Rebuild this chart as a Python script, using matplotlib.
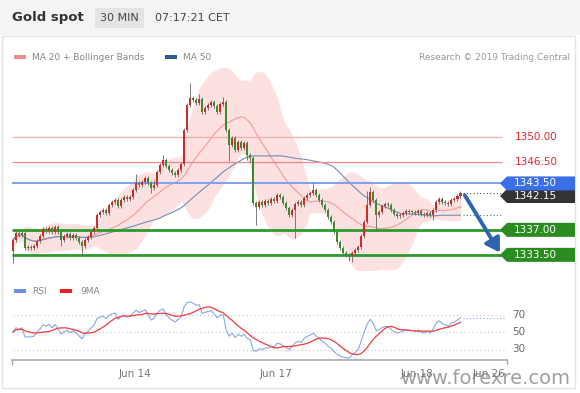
import numpy as np
import pandas as pd
import matplotlib
matplotlib.use("Agg")
import matplotlib.pyplot as plt
from matplotlib.patches import Rectangle, Polygon

# 30 min closes
closes = [
    1335.6, 1336.6, 1336.3, 1336.6, 1334.5, 1334.6, 1334.5, 1334.7, 1335.4, 1336.1,
    1337.1, 1336.8, 1337.3, 1336.7, 1337.4, 1336.7, 1335.6, 1336.1, 1336.4, 1335.9,
    1336.3, 1335.9, 1335.3, 1334.7, 1335.6, 1336.0, 1336.7, 1337.3, 1339.1, 1339.5,
    1339.8, 1339.4, 1340.5, 1340.9, 1341.2, 1340.3, 1341.2, 1341.6, 1341.3, 1341.6,
    1342.6, 1343.6, 1343.3, 1343.7, 1344.3, 1343.6, 1342.9, 1343.3, 1345.1, 1346.1,
    1346.8, 1345.9, 1345.4, 1345.0, 1344.7, 1345.4, 1346.2, 1351.0, 1354.5, 1355.5,
    1355.2, 1354.8, 1355.3, 1353.5, 1354.1, 1354.5, 1354.9, 1354.3, 1353.5, 1354.6,
    1354.9, 1351.0, 1348.9, 1349.9, 1348.2, 1349.3, 1348.5, 1349.2, 1347.5, 1347.1,
    1340.8, 1340.2, 1340.9, 1340.5, 1341.0, 1340.8, 1341.3, 1341.0, 1341.9, 1341.6,
    1340.8, 1340.1, 1339.1, 1339.8, 1340.6, 1340.9, 1340.5, 1341.5, 1341.9, 1342.2,
    1342.6, 1341.9, 1341.2, 1340.5, 1339.8, 1338.8, 1338.1, 1336.7, 1335.3, 1334.5,
    1333.8, 1333.5, 1333.3, 1333.8, 1334.2, 1334.6, 1336.1, 1338.1, 1340.5, 1342.3,
    1341.2, 1339.1, 1339.5, 1340.3, 1340.6, 1340.5, 1339.8, 1339.2, 1338.9, 1339.1,
    1339.4, 1339.6, 1339.5, 1339.5, 1339.4, 1339.6, 1339.2, 1339.1, 1339.4, 1339.1,
    1339.8, 1340.9, 1341.3, 1340.9, 1340.8, 1340.6, 1341.2, 1341.3, 1341.7, 1342.15,
]
first_open = 1334.0
# long wicks that stand out on the chart
wick_highs = {41: 1344.8, 47: 1344.0, 50: 1347.5, 59: 1357.5, 62: 1356.0, 100: 1343.7,
              119: 1343.0, 118: 1342.4, 70: 1355.6}
wick_lows = {0: 1332.4, 16: 1334.8, 23: 1333.5, 46: 1342.2, 72: 1346.6, 78: 1346.8,
             79: 1346.5, 81: 1337.7, 94: 1335.9, 113: 1332.5, 121: 1337.0, 140: 1338.4,
             112: 1332.7}

res_levels = [1350.00, 1346.50]
pivot_level = 1343.50
sup_levels = [1337.00, 1333.50]
last_price = 1342.15

date_pos = [41, 88, 135, 159]
date_labels = ["Jun 14", "Jun 17", "Jun 18", "Jun 26"]
rsi_levels = [70, 50, 30]

W, H = 580, 393
def fx(px):
    return px / W
def fy(py):
    return 1 - py / H
def price_y(p):
    return 137 + (1350 - p) * 7.143

c = pd.Series(closes)
n = len(c)
opens = np.r_[first_open, c.values[:-1]]
ma20 = c.rolling(20, min_periods=1).mean()
sd20 = c.rolling(20, min_periods=2).std(ddof=0).bfill()
ma50 = c.rolling(50, min_periods=1).mean()

d = c.diff().fillna(0)
seed = d.abs().mean() / 2
gain = d.clip(lower=0)
loss = (-d).clip(lower=0)
ag, al = [], []
g, l = seed, seed
for gi, li in zip(gain, loss):
    g = g + (gi - g) / 14
    l = l + (li - l) / 14
    ag.append(g)
    al.append(l)
rsi = 100 - 100 / (1 + np.array(ag) / np.array(al))
rsi_ma = pd.Series(rsi).rolling(9, min_periods=1).mean()

fig = plt.figure(figsize=(5.8, 3.93), dpi=100)
fig.patch.set_facecolor("white")

# header band and frame
fig.patches.append(Rectangle((0, fy(35)), 1, 1 - fy(35), transform=fig.transFigure,
                             facecolor="#f5f3f3", edgecolor="none", zorder=0))
fig.patches.append(Rectangle((fx(2), fy(388)), fx(575) - fx(2), fy(36) - fy(388),
                             transform=fig.transFigure, facecolor="none",
                             edgecolor="#e4e4e4", lw=1, zorder=0))
fig.text(fx(12), fy(18), "Gold spot", fontsize=9.5, fontweight="bold", color="#333", va="center")
fig.text(fx(100), fy(18), "30 MIN", fontsize=8, color="#444", va="center",
         bbox=dict(boxstyle="square,pad=0.45", facecolor="#e4e4e4", edgecolor="none"))
fig.text(fx(155), fy(18), "07:17:21 CET", fontsize=8, color="#444", va="center")

fig.patches.append(Rectangle((fx(14), fy(59)), fx(12), fy(55) - fy(59), transform=fig.transFigure,
                             facecolor="#f48a8a", edgecolor="none"))
fig.text(fx(32), fy(57), "MA 20 + Bollinger Bands", fontsize=6.5, color="#888", va="center")
fig.patches.append(Rectangle((fx(165), fy(59)), fx(12), fy(55) - fy(59), transform=fig.transFigure,
                             facecolor="#2f5a92", edgecolor="none"))
fig.text(fx(183), fy(57), "MA 50", fontsize=6.5, color="#888", va="center")
fig.text(fx(570), fy(57), "Research \u00a9 2019 Trading Central", fontsize=6.5, color="#999",
         va="center", ha="right")

# main price panel
ax = fig.add_axes([fx(11.5), fy(270), fx(507) - fx(11.5), fy(68) - fy(270)])
ax.set_xlim(-0.5, 164.5)
ax.set_ylim(1350 - 133 / 7.143, 1350 + 69 / 7.143)
ax.axis("off")
x = np.arange(n)
ax.fill_between(x, ma20 - 2 * sd20, ma20 + 2 * sd20, color="#fde0e0", lw=0, zorder=1)
ax.plot(x, ma20, color="#f39a9a", lw=0.8, zorder=2)
ax.plot(x, ma50, color="#6f8fb8", lw=0.8, zorder=2)

xe = 162.7
ax.hlines(res_levels[0], -0.3, xe, color="#f7b0b0", lw=0.9, zorder=3)
ax.hlines(res_levels[1], -0.3, xe, color="#ee8a8a", lw=0.9, zorder=3)
ax.hlines(pivot_level, -0.3, xe, color="#7fa0f5", lw=1.4, zorder=3)
for lv in sup_levels:
    ax.hlines(lv, -0.3, xe, color="#2c9a2c", lw=2.0, zorder=3)
ax.hlines(last_price, n, xe, color="#555", lw=0.8, linestyles=(0, (1, 2)), zorder=3)
ax.hlines(ma50.iloc[-1], n, xe, color="#4a6fa8", lw=0.8, linestyles=(0, (1, 2)), zorder=3)

for i in range(n):
    o, cl = opens[i], closes[i]
    hi = wick_highs.get(i, max(o, cl) + 0.3)
    lo = wick_lows.get(i, min(o, cl) - 0.3)
    col = "#cf2b2b" if cl >= o else "#3b8a2c"
    ax.vlines(i, lo, hi, color="#666", lw=0.6, zorder=4)
    ax.add_patch(Rectangle((i - 0.35, min(o, cl)), 0.7, max(abs(cl - o), 0.08),
                           facecolor=col, edgecolor="none", zorder=5))

ax.annotate("", xy=(162.6, sup_levels[1]), xytext=(n, last_price),
            arrowprops=dict(arrowstyle="-|>,head_length=0.8,head_width=0.5",
                            color="#2e64b0", lw=2.8), zorder=6)

for p in res_levels:
    fig.text(fx(515), fy(price_y(p)), f"{p:.2f}", fontsize=7.5, color="#e8262b", va="center")

def tag(py, label, color):
    pts = [(fx(500), fy(py)), (fx(507), fy(py - 7)), (fx(575), fy(py - 7)),
           (fx(575), fy(py + 7)), (fx(507), fy(py + 7))]
    fig.patches.append(Polygon(pts, closed=True, transform=fig.transFigure,
                               facecolor=color, edgecolor="none"))
    fig.text(fx(514), fy(py), label, fontsize=7.5, color="white", va="center")

tag(196, f"{last_price:.2f}", "#333333")
tag(price_y(pivot_level), f"{pivot_level:.2f}", "#3a6fe8")
for lv in sup_levels:
    tag(price_y(lv), f"{lv:.2f}", "#2a8c1e")

# rsi panel
fig.patches.append(Rectangle((fx(14), fy(293)), fx(12), fy(289) - fy(293), transform=fig.transFigure,
                             facecolor="#6d8fe6", edgecolor="none"))
fig.text(fx(32), fy(291), "RSI", fontsize=6.5, color="#888", va="center")
fig.patches.append(Rectangle((fx(60), fy(293)), fx(12), fy(289) - fy(293), transform=fig.transFigure,
                             facecolor="#f02020", edgecolor="none"))
fig.text(fx(80), fy(291), "9MA", fontsize=6.5, color="#888", va="center")

ax2 = fig.add_axes([fx(11.5), fy(360), fx(507) - fx(11.5), fy(300) - fy(360)])
ax2.set_xlim(-0.5, 164.5)
ax2.set_ylim(50 - 28 / 0.875, 50 + 32 / 0.875)
ax2.axis("off")
for lv in rsi_levels:
    ax2.hlines(lv, 0, 163.5, color="#c8c8c8", lw=0.8, linestyles=(0, (1, 2.5)))
    fig.text(fx(512), fy(332 - (lv - 50) * 0.875), str(lv), fontsize=7.5, color="#666", va="center")
ax2.plot(x, rsi, color="#8aa6ea", lw=0.8)
ax2.plot(x, rsi_ma, color="#f03c3c", lw=0.9)
ax2.hlines(rsi[-1], n, 163.5, color="#8aa6ea", lw=0.8, linestyles=(0, (1, 2)))

# date axis
fig.lines.append(plt.Line2D([fx(12), fx(507)], [fy(360), fy(360)], transform=fig.transFigure,
                            color="#aaa", lw=1.2))
for px in (12, 507):
    fig.lines.append(plt.Line2D([fx(px), fx(px)], [fy(360), fy(364)], transform=fig.transFigure,
                                color="#aaa", lw=1.0))
for pos, lab in zip(date_pos, date_labels):
    fig.text(fx(12 + 3 * pos), fy(374), lab, fontsize=7.5, color="#777", ha="center", va="center")

fig.text(fx(485), fy(378), "www.forexre.com", fontsize=14, color="#777", alpha=0.7,
         ha="center", va="center")

fig.savefig("out.png", dpi=100)
